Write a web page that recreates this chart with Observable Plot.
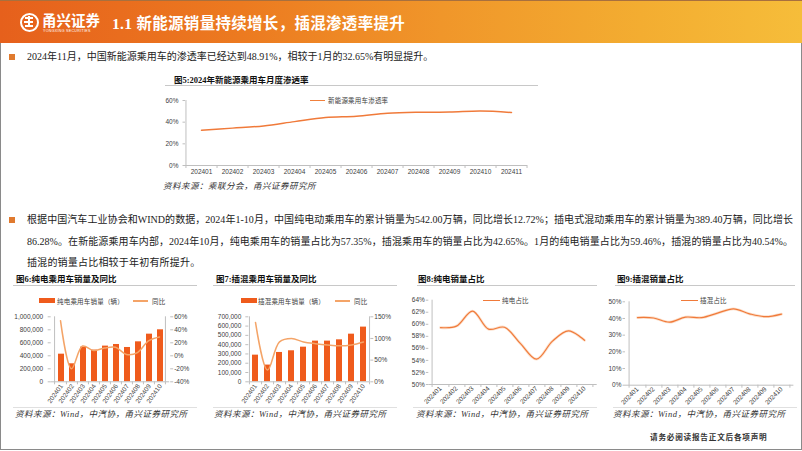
<!DOCTYPE html>
<html><head><meta charset="utf-8">
<script src="https://cdn.jsdelivr.net/npm/d3@7"></script>
<script src="https://cdn.jsdelivr.net/npm/@observablehq/plot@0.6"></script>
<style>
html,body{margin:0;padding:0;}
body{width:802px;height:451px;overflow:hidden;background:#fff;position:relative;font-family:"Liberation Serif","Noto Sans CJK SC",serif;color:#222;}
.t{position:absolute;white-space:nowrap;line-height:1;transform:translateY(-50%);}
.ab{position:absolute;}
.title{font-family:"Liberation Serif","Noto Sans CJK SC",serif;font-weight:bold;font-size:8.5px;color:#111;}
.src{font-family:"Liberation Serif","Noto Sans CJK SC",serif;font-style:italic;font-size:8.5px;letter-spacing:0.5px;color:#333;}
.leg{font-family:"Noto Sans CJK SC",sans-serif;font-size:6.5px;color:#404040;letter-spacing:0.2px;}
.hr{position:absolute;height:1px;background:#c8c8c8;}
.para{font-size:10px;color:#222;text-align:justify;text-align-last:justify;}
.bullet{position:absolute;width:6px;height:6px;background:#e07a2e;}
.plot{position:absolute;}
.plot svg{overflow:visible;}
</style></head>
<body>
<!-- header -->
<div class="ab" style="left:0;top:0;width:802px;height:43px;box-sizing:border-box;border-top:1.5px solid #a8703e;background:linear-gradient(90deg,#e6601c 0%,#ec7a20 30%,#f0962a 55%,#f3ad31 80%,#f6bd3a 100%);"></div>
<div class="ab" style="left:20px;top:13px;width:15px;height:15px;border:2px solid #fff;border-radius:50%;"></div>
<div class="ab" style="left:25px;top:17px;width:8px;height:1.6px;background:#fff;"></div>
<div class="ab" style="left:24px;top:21px;width:9px;height:1.6px;background:#fff;"></div>
<div class="ab" style="left:25px;top:25px;width:8px;height:1.6px;background:#fff;"></div>
<div class="ab" style="left:28px;top:16px;width:1.6px;height:11px;background:#fff;"></div>
<div class="t" style="left:42px;top:20px;font-family:'Noto Sans CJK SC',sans-serif;font-weight:bold;font-size:14.5px;color:#fff;">甬兴证券</div>
<div class="t" style="left:43px;top:32px;font-family:'Liberation Sans',sans-serif;font-size:3.6px;color:#fff;letter-spacing:0.3px;">YONGXING SECURITIES</div>
<div class="t" style="left:112px;top:24px;font-family:'Liberation Serif','Noto Sans CJK SC',serif;font-weight:bold;font-size:15.5px;color:#fff;letter-spacing:0.3px;">1.1 新能源销量持续增长，插混渗透率提升</div>

<!-- frame -->
<div class="ab" style="left:0;top:43px;width:802px;height:407px;box-sizing:border-box;border:1.5px solid #8a8a8a;border-top:none;"></div>

<!-- first bullet -->
<div class="bullet" style="left:9px;top:54px;"></div>
<div class="t para" style="left:27px;top:57px;width:398px;">2024年11月，中国新能源乘用车的渗透率已经达到48.91%，相较于1月的32.65%有明显提升。</div>

<!-- fig 5 -->
<div class="t title" style="left:174px;top:80px;">图5:2024年新能源乘用车月度渗透率</div>
<div class="hr" style="left:165px;top:85px;width:373px;"></div>
<div class="ab" style="left:310px;top:99.5px;width:15px;height:1.5px;background:#f0803c;"></div>
<div class="t leg" style="left:328px;top:100px;">新能源乘用车渗透率</div>
<div id="fig5" class="plot" style="left:160px;top:88px;"></div>
<div class="t src" style="left:163px;top:186px;">资料来源：乘联分会，甬兴证券研究所</div>

<!-- paragraph -->
<div class="bullet" style="left:9px;top:217px;"></div>
<div class="t para" style="left:27px;top:220px;width:766px;">根据中国汽车工业协会和WIND的数据，2024年1-10月，中国纯电动乘用车的累计销量为542.00万辆，同比增长12.72%；插电式混动乘用车的累计销量为389.40万辆，同比增长</div>
<div class="t para" style="left:27px;top:242px;width:766px;">86.28%。在新能源乘用车内部，2024年10月，纯电乘用车的销量占比为57.35%，插混乘用车的销量占比为42.65%。1月的纯电销量占比为59.46%，插混的销量占比为40.54%。</div>
<div class="t" style="left:27px;top:263px;font-size:10px;color:#222;letter-spacing:0.2px;">插混的销量占比相较于年初有所提升。</div>

<!-- fig 6 -->
<div class="t title" style="left:16px;top:279px;">图6:纯电乘用车销量及同比</div>
<div class="hr" style="left:13px;top:285px;width:184px;"></div>
<div class="ab" style="left:39px;top:298px;width:16px;height:5px;background:#ef5b1c;"></div>
<div class="t leg" style="left:57px;top:300.5px;">纯电乘用车销量（辆）</div>
<div class="ab" style="left:133px;top:300px;width:15px;height:1.5px;background:#f4a468;"></div>
<div class="t leg" style="left:152px;top:300.5px;">同比</div>
<div id="fig6a" class="plot" style="left:0;top:306px;"></div>
<div id="fig6b" class="plot" style="left:0;top:306px;"></div>
<div class="hr" style="left:13px;top:407px;width:184px;background:#e0e0e0;"></div>
<div class="t src" style="left:15px;top:414px;">资料来源：Wind，中汽协，甬兴证券研究所</div>

<!-- fig 7 -->
<div class="t title" style="left:216px;top:279px;">图7:插混乘用车销量及同比</div>
<div class="hr" style="left:213px;top:285px;width:184px;"></div>
<div class="ab" style="left:240.5px;top:298px;width:16px;height:5px;background:#ef5b1c;"></div>
<div class="t leg" style="left:258px;top:300.5px;">插混乘用车销量（辆）</div>
<div class="ab" style="left:335px;top:300px;width:15px;height:1.5px;background:#f4a468;"></div>
<div class="t leg" style="left:354px;top:300.5px;">同比</div>
<div id="fig7a" class="plot" style="left:200px;top:306px;"></div>
<div id="fig7b" class="plot" style="left:200px;top:306px;"></div>
<div class="hr" style="left:213px;top:407px;width:184px;background:#e0e0e0;"></div>
<div class="t src" style="left:214px;top:414px;">资料来源：Wind，中汽协，甬兴证券研究所</div>

<!-- fig 8 -->
<div class="t title" style="left:418px;top:279px;">图8:纯电销量占比</div>
<div class="hr" style="left:417px;top:285px;width:180px;"></div>
<div class="ab" style="left:483px;top:299.5px;width:17px;height:1.5px;background:#f07a3a;"></div>
<div class="t leg" style="left:502px;top:300px;">纯电占比</div>
<div id="fig8" class="plot" style="left:400px;top:290px;"></div>
<div class="hr" style="left:413px;top:407px;width:184px;background:#e0e0e0;"></div>
<div class="t src" style="left:416px;top:414px;">资料来源：Wind，中汽协，甬兴证券研究所</div>

<!-- fig 9 -->
<div class="t title" style="left:617px;top:279px;">图9:插混销量占比</div>
<div class="hr" style="left:615px;top:285px;width:180px;"></div>
<div class="ab" style="left:681px;top:299.5px;width:17px;height:1.5px;background:#f07a3a;"></div>
<div class="t leg" style="left:700px;top:300px;">插混占比</div>
<div id="fig9" class="plot" style="left:600px;top:290px;"></div>
<div class="hr" style="left:613px;top:407px;width:184px;background:#e0e0e0;"></div>
<div class="t src" style="left:613px;top:414px;">资料来源：Wind，中汽协，甬兴证券研究所</div>

<!-- footer -->
<div class="t" style="left:650px;top:437px;font-family:'Noto Sans CJK SC',sans-serif;font-weight:bold;font-size:7.6px;letter-spacing:0.8px;color:#333;">请务必阅读报告正文后各项声明</div>

<script>
// ---------- data ----------
const months5 = ["202401","202402","202403","202404","202405","202406","202407","202408","202409","202410","202411"];
const penetration = [32.65, 34.5, 36.5, 40.5, 44.3, 45.5, 48.3, 49.2, 49.3, 50.2, 48.91];

const months = ["202401","202402","202403","202404","202405","202406","202407","202408","202409","202410"];
const bevSales = [425000, 277000, 533000, 487000, 549000, 574000, 528000, 615000, 733000, 800000];
const bevYoY = [54, -20, 15, 8, 12, 13, 2, 5, 23, 29];
const phevSales = [287000, 180000, 316000, 334000, 373000, 438000, 438000, 452000, 513000, 589000];
const phevYoY = [137, 27, 92, 100, 92, 88, 85, 83, 85, 92];
const bevShare = [59.46, 59.7, 62.2, 59.2, 59.5, 56.8, 54.2, 57.2, 58.9, 57.35];
const phevShare = [40.54, 40.3, 37.8, 40.8, 40.5, 43.2, 45.8, 42.8, 41.1, 42.65];

const ticks5 = [0, 20, 40, 60];
const ticksBev = [0, 200000, 400000, 600000, 800000, 1000000];
const ticksBevYoY = [-40, -20, 0, 20, 40, 60];
const ticksPhev = [0, 100000, 200000, 300000, 400000, 500000, 600000, 700000];
const ticksPhevYoY = [0, 50, 100, 150];
const ticksBevShare = [50, 52, 54, 56, 58, 60, 62, 64];
const ticksPhevShare = [0, 10, 20, 30, 40, 50];

// ---------- styles ----------
const FONT = "'Liberation Sans', Arial, sans-serif";
const AX = "#bfbfbf";
const TXT = "#404040";
const BAR = "#ef5b1c";
const YOY = "#f4a468";
const LINE = "#f07a3a";
const HALO = "#fce0cc";
const pct = d => d + "%";
const thousands = d3.format(",");
const baseStyle = {background: "transparent", fontFamily: FONT, fontSize: "6.5px", color: TXT, overflow: "visible"};

function rows(cats, vals) { return cats.map((m, i) => ({m, v: vals[i]})); }

// line chart with point scale + Excel-like axes
function lineChart({cats, vals, yDomain, yTicks, width, height, mt, mb, ml, mr, rotate, tickPad, xPad, halo}) {
  const step = (width - ml - mr) / cats.length;
  const data = rows(cats, vals);
  const marks = [
    Plot.ruleY([yDomain[0]], {stroke: AX}),
    Plot.ruleX([cats[0]], {dx: -step / 2, stroke: AX, insetBottom: -3}),
    Plot.ruleX(cats, {dx: step / 2, y1: yDomain[0], y2: yDomain[0], insetBottom: -3, stroke: AX}),
    Plot.axisY({ticks: yTicks, tickFormat: pct, tickSize: 2.5, tickPadding: tickPad, stroke: AX, fill: TXT, label: null}),
    rotate
      ? Plot.axisX({tickSize: 0, tickPadding: xPad, tickRotate: rotate, fill: TXT, label: null})
      : Plot.axisX({tickSize: 0, tickPadding: xPad, fill: TXT, label: null})
  ];
  if (halo) marks.push(Plot.line(data, {x: "m", y: "v", stroke: HALO, strokeWidth: 2.8, curve: "catmull-rom"}));
  marks.push(Plot.line(data, {x: "m", y: "v", stroke: LINE, strokeWidth: halo ? 1.2 : 1.5, curve: "catmull-rom"}));
  return Plot.plot({
    width, height, marginTop: mt, marginBottom: mb, marginLeft: ml, marginRight: mr,
    style: baseStyle,
    x: {type: "point", domain: cats, padding: 0.5, label: null},
    y: {domain: yDomain, label: null},
    marks
  });
}

// Fig 5
document.getElementById("fig5").append(lineChart({
  cats: months5, vals: penetration, yDomain: [0, 60], yTicks: ticks5,
  width: 380, height: 95, mt: 12, mb: 18, ml: 25, mr: 13, rotate: 0, tickPad: 4.5, xPad: 4, halo: false
}));

// combo chart: bars (left axis) + yoy line (right axis)
function combo({elA, elB, cats, sales, yoy, salesDomain, salesTicks, yoyDomain, yoyTicks, width, height, mt, mb, ml, mr, leftPad}) {
  const step = (width - ml - mr) / cats.length;
  const bars = Plot.plot({
    width, height, marginTop: mt, marginBottom: mb, marginLeft: ml, marginRight: mr,
    style: baseStyle,
    x: {type: "band", domain: cats, paddingInner: 0.5, paddingOuter: 0.25, label: null},
    y: {domain: salesDomain, label: null},
    marks: [
      Plot.barY(rows(cats, sales), {x: "m", y: "v", fill: BAR}),
      Plot.ruleY([salesDomain[0]], {stroke: AX}),
      Plot.axisY({ticks: salesTicks, tickFormat: thousands, tickSize: 3, tickPadding: leftPad, stroke: AX, fill: TXT, label: null}),
      Plot.axisX({tickSize: 0, tickPadding: 3, tickRotate: -55, fill: TXT, label: null})
    ]
  });
  const line = Plot.plot({
    width, height, marginTop: mt, marginBottom: mb, marginLeft: ml, marginRight: mr,
    style: baseStyle,
    x: {type: "point", domain: cats, padding: 0.5, axis: null, label: null},
    y: {domain: yoyDomain, label: null},
    marks: [
      Plot.ruleX([cats[0]], {dx: -step / 2, stroke: AX, insetBottom: -3}),
      Plot.ruleX([cats[cats.length - 1]], {dx: step / 2, stroke: AX}),
      Plot.ruleX(cats, {dx: step / 2, y1: yoyDomain[0], y2: yoyDomain[0], insetBottom: -3, stroke: AX}),
      Plot.axisY({anchor: "right", ticks: yoyTicks, tickFormat: pct, tickSize: 3, tickPadding: 1.5, stroke: AX, fill: TXT, label: null}),
      Plot.line(rows(cats, yoy), {x: "m", y: "v", stroke: YOY, strokeWidth: 1.5, curve: "catmull-rom"})
    ]
  });
  document.getElementById(elA).append(bars);
  document.getElementById(elB).append(line);
}

combo({elA: "fig6a", elB: "fig6b", cats: months, sales: bevSales, yoy: bevYoY,
  salesDomain: [0, 1000000], salesTicks: ticksBev, yoyDomain: [-40, 60], yoyTicks: ticksBevYoY,
  width: 200, height: 102, mt: 10.3, mb: 26.7, ml: 50.7, mr: 30.8, leftPad: 5});

combo({elA: "fig7a", elB: "fig7b", cats: months, sales: phevSales, yoy: phevYoY,
  salesDomain: [0, 700000], salesTicks: ticksPhev, yoyDomain: [0, 150], yoyTicks: ticksPhevYoY,
  width: 200, height: 102, mt: 10.3, mb: 26.7, ml: 48.3, mr: 30.7, leftPad: 4.5});

// Fig 8
document.getElementById("fig8").append(lineChart({
  cats: months, vals: bevShare, yDomain: [50, 64], yTicks: ticksBevShare,
  width: 200, height: 118, mt: 9.7, mb: 24, ml: 28.3, mr: 3.3, rotate: -45, tickPad: 1.5, xPad: 3, halo: true
}));

// Fig 9
document.getElementById("fig9").append(lineChart({
  cats: months, vals: phevShare, yDomain: [0, 50], yTicks: ticksPhevShare,
  width: 200, height: 118, mt: 11.3, mb: 23.3, ml: 25, mr: 6.6, rotate: -45, tickPad: 1.5, xPad: 3, halo: true
}));
</script>
</body></html>
